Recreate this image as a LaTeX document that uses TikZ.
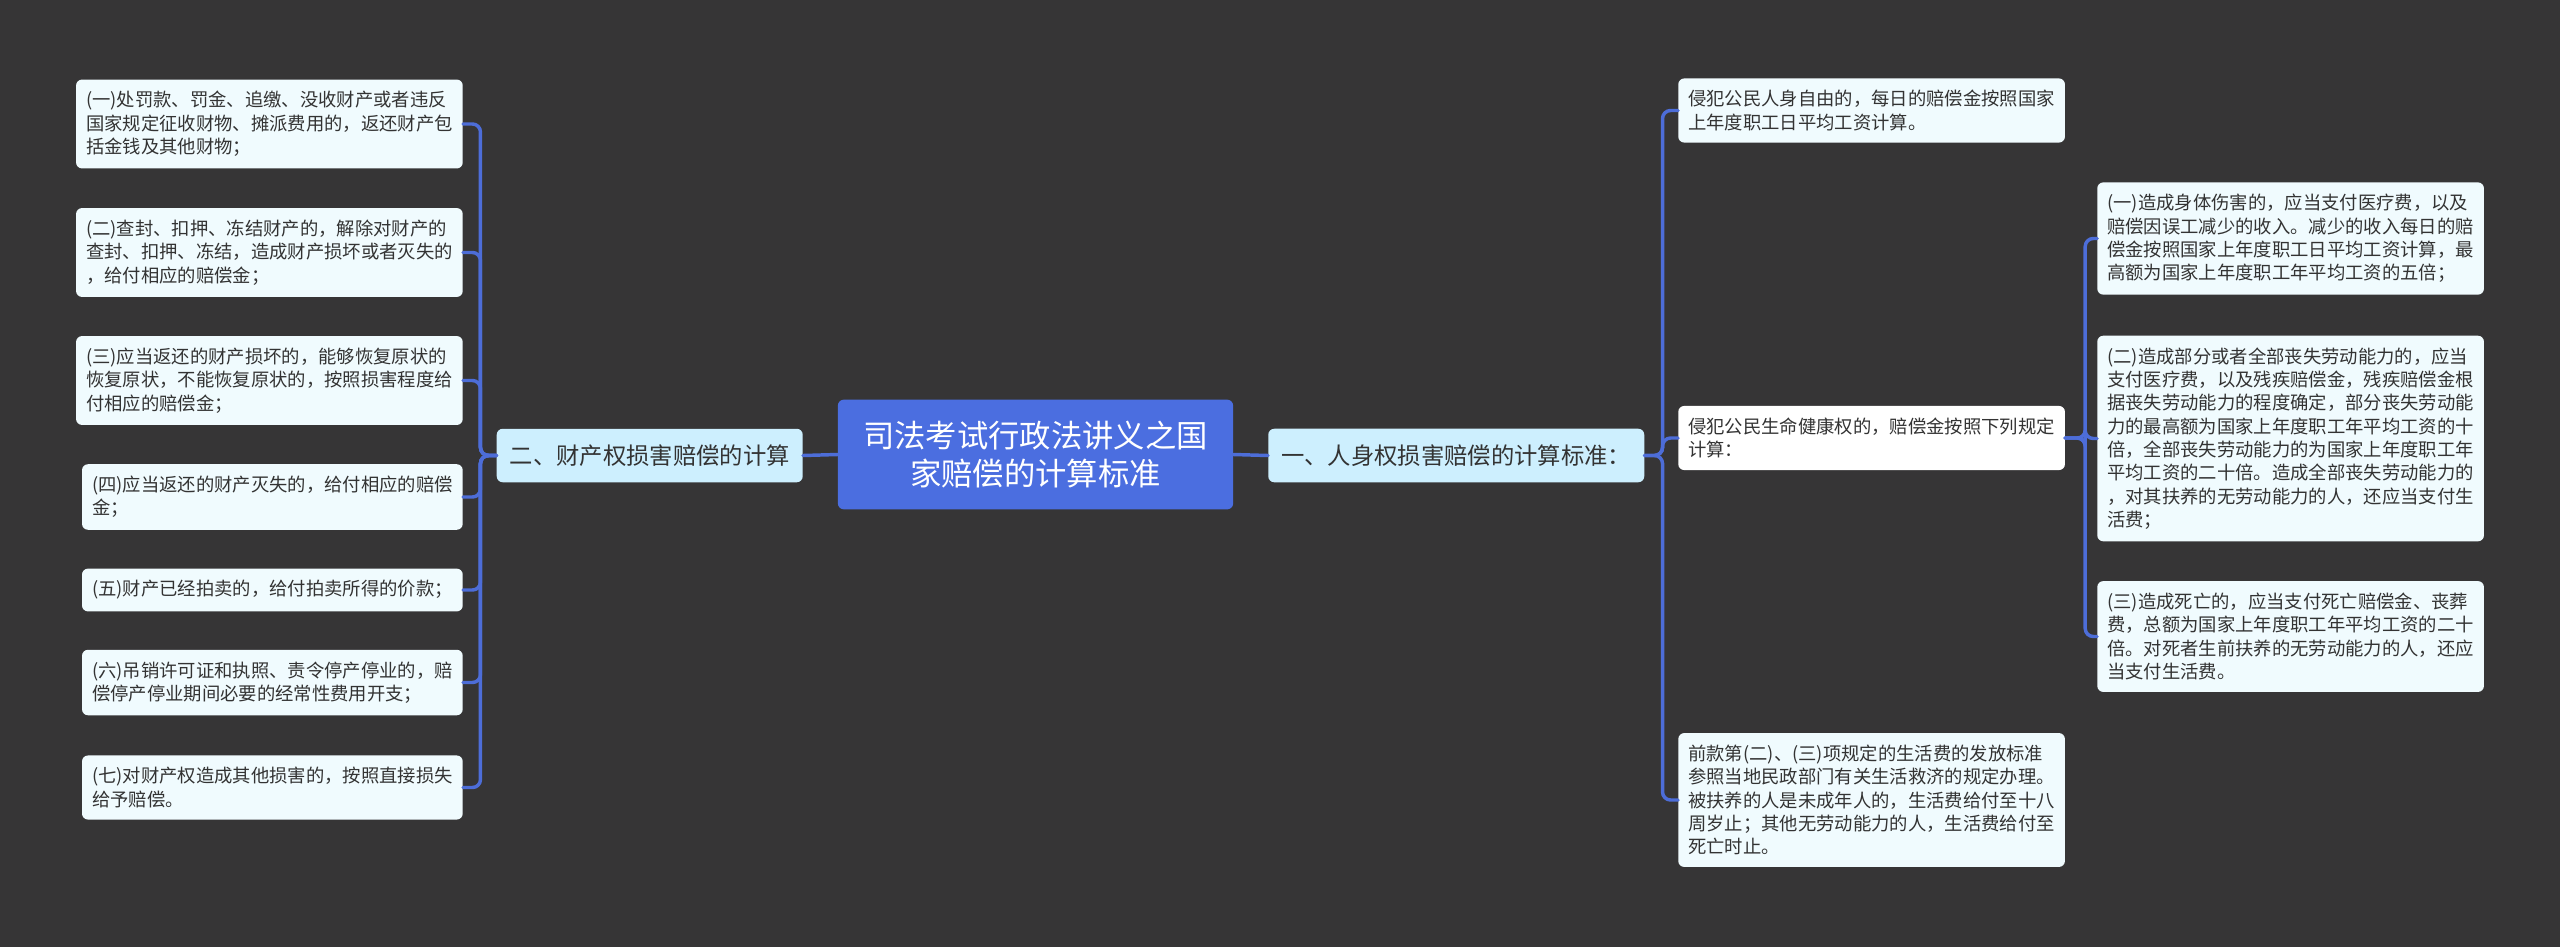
\documentclass[tikz,border=0pt]{standalone}
\usepackage{fontspec}
\setmainfont{Noto Sans CJK SC}
\definecolor{bgcol}{HTML}{363536}
\definecolor{linkcol}{HTML}{4D6DD8}
\definecolor{rootcol}{HTML}{4B6EE0}
\definecolor{branchcol}{HTML}{CDEFFE}
\definecolor{leafcol}{HTML}{F0FBFE}
\definecolor{txtcol}{HTML}{333333}
\begin{document}
\begin{tikzpicture}[x=0.75pt, y=-0.75pt, line join=round, line cap=round,
	leaf/.style={fill=leafcol, text=txtcol, rounded corners=4.5pt, align=left, inner xsep=7.5pt, inner ysep=8.9pt, font=\fontsize{13.75}{17.5}\selectfont},
	branch/.style={fill=branchcol, text=txtcol, rounded corners=4.5pt, inner xsep=9.75pt, inner ysep=11.9pt, font=\fontsize{17.5}{21}\selectfont},
	rootbox/.style={fill=rootcol, text=white, rounded corners=4.5pt, align=center, inner xsep=19pt, inner ysep=16pt, font=\fontsize{23.5}{28.5}\selectfont},
	link/.style={draw=linkcol, line width=2.6pt, rounded corners=6pt}]
	\def\lx{463} \def\rx{1678} \def\fx{2097} % bord des feuilles
	\fill[bgcol] (0,0) rectangle (2560,947);
	\useasboundingbox (0,0) rectangle (2560,947);
	% centre
	\node[rootbox] (root) at (1035.5,454.5) {司法考试行政法讲义之国\\家赔偿的计算标准};
	\node[branch, anchor=east] (lb) at (803,455.5) {二、财产权损害赔偿的计算};
	\node[branch, anchor=west] (rb) at (1268,455.5) {一、人身权损害赔偿的计算标准：};
	% gauche
	\node[leaf, anchor=east] (l1) at (\lx,124) {(一)处罚款、罚金、追缴、没收财产或者违反\\国家规定征收财物、摊派费用的，返还财产包\\括金钱及其他财物；};
	\node[leaf, anchor=east] (l2) at (\lx,252.5) {(二)查封、扣押、冻结财产的，解除对财产的\\查封、扣押、冻结，造成财产损坏或者灭失的\\，给付相应的赔偿金；};
	\node[leaf, anchor=east] (l3) at (\lx,380.5) {(三)应当返还的财产损坏的，能够恢复原状的\\恢复原状，不能恢复原状的，按照损害程度给\\付相应的赔偿金；};
	\node[leaf, anchor=east] (l4) at (\lx,497) {(四)应当返还的财产灭失的，给付相应的赔偿\\金；};
	\node[leaf, anchor=east] (l5) at (\lx,590) {(五)财产已经拍卖的，给付拍卖所得的价款；};
	\node[leaf, anchor=east] (l6) at (\lx,682.5) {(六)吊销许可证和执照、责令停产停业的，赔\\偿停产停业期间必要的经常性费用开支；};
	\node[leaf, anchor=east] (l7) at (\lx,787.5) {(七)对财产权造成其他损害的，按照直接损失\\给予赔偿。};
	% droite
	\node[leaf, anchor=west] (r1) at (\rx,110.5) {侵犯公民人身自由的，每日的赔偿金按照国家\\上年度职工日平均工资计算。};
	\node[leaf, anchor=west, fill=white] (r2) at (\rx,438) {侵犯公民生命健康权的，赔偿金按照下列规定\\计算：};
	\node[leaf, anchor=west] (r3) at (\rx,800) {前款第(二)、(三)项规定的生活费的发放标准\\参照当地民政部门有关生活救济的规定办理。\\被扶养的人是未成年人的，生活费给付至十八\\周岁止；其他无劳动能力的人，生活费给付至\\死亡时止。};
	\node[leaf, anchor=west] (f1) at (\fx,238.5) {(一)造成身体伤害的，应当支付医疗费，以及\\赔偿因误工减少的收入。减少的收入每日的赔\\偿金按照国家上年度职工日平均工资计算，最\\高额为国家上年度职工年平均工资的五倍；};
	\node[leaf, anchor=west] (f2) at (\fx,438.5) {(二)造成部分或者全部丧失劳动能力的，应当\\支付医疗费，以及残疾赔偿金，残疾赔偿金根\\据丧失劳动能力的程度确定，部分丧失劳动能\\力的最高额为国家上年度职工年平均工资的十\\倍，全部丧失劳动能力的为国家上年度职工年\\平均工资的二十倍。造成全部丧失劳动能力的\\，对其扶养的无劳动能力的人，还应当支付生\\活费；};
	\node[leaf, anchor=west] (f3) at (\fx,636.5) {(三)造成死亡的，应当支付死亡赔偿金、丧葬\\费，总额为国家上年度职工年平均工资的二十\\倍。对死者生前扶养的无劳动能力的人，还应\\当支付生活费。};
	% liens
	\draw[link] (root.west) -- (lb.east);
	\draw[link] (root.east) -- (rb.west);
	\foreach \i in {1,...,7} \draw[link] (lb.west) -- ++(-16,0) |- (l\i.east);
	\foreach \i in {1,2,3} \draw[link] (rb.east) -- ++(18,0) |- (r\i.west);
	\foreach \i in {1,2,3} \draw[link] (r2.east) -- ++(20,0) |- (f\i.west);
\end{tikzpicture}
\end{document}
